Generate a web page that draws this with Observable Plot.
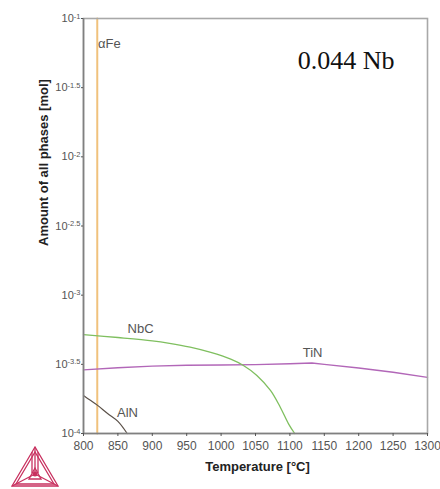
<!DOCTYPE html>
<html><head><meta charset="utf-8">
<script src="https://cdn.jsdelivr.net/npm/d3@7"></script>
<script src="https://cdn.jsdelivr.net/npm/@observablehq/plot@0.6"></script>
<style>
body{margin:0;background:#fff;}
#wrap{position:relative;width:440px;height:489px;font-family:"Liberation Sans",Arial,sans-serif;}
#logo{position:absolute;left:11px;top:446px;}
</style>
</head><body><div id="wrap"></div>
<script>
// Temperatures [°C] and log10(amount [mol])
const nbcT   = [800, 850, 900, 925, 955, 985, 1014, 1033, 1052, 1072, 1086, 1098, 1107];
const nbcLog = [-3.285, -3.306, -3.33, -3.348, -3.376, -3.414, -3.463, -3.51, -3.58, -3.69, -3.81, -3.93, -4.0];
const tinT   = [800, 850, 900, 950, 1000, 1050, 1100, 1132, 1150, 1200, 1250, 1300];
const tinLog = [-3.54, -3.525, -3.513, -3.507, -3.505, -3.502, -3.496, -3.49, -3.50, -3.527, -3.557, -3.594];
const alnT   = [800, 810, 820, 835, 850, 863.5];
const alnLog = [-3.726, -3.76, -3.795, -3.855, -3.912, -4.0];
const feT    = [820, 820];
const feLog  = [-4.0, -1.0];

const phaseNames = ["αFe", "NbC", "TiN", "AlN"];
const phaseColors = ["#f0c27c", "#7fbf5f", "#b267b8", "#5a5048"];
const labelT   = [821, 883, 1133, 864];
const labelLog = [-1.18, -3.24, -3.42, -3.85];
const labelAnchor = ["start", "middle", "middle", "middle"];

const xTicks = [800, 850, 900, 950, 1000, 1050, 1100, 1150, 1200, 1250, 1300];
const yTickExp = [-1, -1.5, -2, -2.5, -3, -3.5, -4];

const toRows = (T, L) => T.map((t, i) => ({t, v: Math.pow(10, L[i])}));
const nbc = toRows(nbcT, nbcLog);
const tin = toRows(tinT, tinLog);
const aln = toRows(alnT, alnLog);
const fe = toRows(feT, feLog);
const labels = phaseNames.map((n, i) => ({n, t: labelT[i], v: Math.pow(10, labelLog[i]), a: labelAnchor[i]}));

const expOf = v => Math.round(Math.log10(v) * 10) / 10;

const chart = Plot.plot({
  width: 440, height: 489,
  marginLeft: 83, marginRight: 13, marginTop: 18, marginBottom: 56,
  style: {fontFamily: "'Liberation Sans', Arial, sans-serif", background: "#fff"},
  x: {domain: [800, 1300]},
  y: {type: "log", domain: [1e-4, 1e-1]},
  marks: [
    Plot.line(fe, {x: "t", y: "v", stroke: phaseColors[0], strokeWidth: 2}),
    Plot.line(aln, {x: "t", y: "v", stroke: phaseColors[3], strokeWidth: 1.2, curve: "catmull-rom"}),
    Plot.line(tin, {x: "t", y: "v", stroke: phaseColors[2], strokeWidth: 1.4, curve: "linear"}),
    Plot.line(nbc, {x: "t", y: "v", stroke: phaseColors[1], strokeWidth: 1.3, curve: "catmull-rom"}),
    Plot.text(labels.filter(d => d.a === "start"), {x: "t", y: "v", text: "n", textAnchor: "start", fontSize: 13, fill: "#555"}),
    Plot.text(labels.filter(d => d.a === "middle"), {x: "t", y: "v", text: "n", textAnchor: "middle", fontSize: 13, fill: "#555"}),
    Plot.frame({stroke: "#a8a8a8", strokeWidth: 1.6}),
    Plot.ruleX([800], {stroke: "#808080", strokeWidth: 1.6}),
    Plot.ruleY([1e-4], {stroke: "#808080", strokeWidth: 1.6}),
    Plot.axisX({ticks: xTicks, tickSize: 3, tickPadding: 5, fontSize: 12, color: "#555", label: null, tickFormat: d => String(d)}),
    Plot.axisY({ticks: yTickExp.map(e => Math.pow(10, e)), tickSize: 2, tickPadding: 1, fontSize: 11, color: "#555", label: null,
      tickFormat: v => "10^" + expOf(v)}),
    Plot.text(["Amount of all phases [mol]"], {frameAnchor: "left", dx: -40, dy: 20, rotate: -90, fontWeight: "bold", fontSize: 13, fill: "#222"}),
    Plot.text(["Temperature [°C]"], {frameAnchor: "bottom", dx: 2, dy: 37, fontWeight: "bold", fontSize: 13, fill: "#222"}),
    Plot.text(["0.044 Nb"], {frameAnchor: "top-right", dx: -33, dy: 32, textAnchor: "end", fontSize: 26, fontFamily: "'Liberation Serif', 'Times New Roman', serif", fill: "#111"})
  ]
});

// superscript formatting for log tick labels
d3.select(chart).selectAll("g[aria-label='y-axis tick label'] text").each(function() {
  const s = this.textContent;
  if (!s.startsWith("10^")) return;
  const e = s.slice(3);
  const t = d3.select(this);
  t.text(null);
  t.append("tspan").text("10");
  t.append("tspan").attr("dy", "-0.45em").attr("font-size", 7.5).text(e);
});

document.getElementById("wrap").appendChild(chart);

// Thermo-Calc style logo (decoration)
const logo = d3.select("#wrap").append("svg").attr("id", "logo").attr("width", 48).attr("height", 42);
const g = logo.append("g").attr("fill", "none").attr("stroke", "#c8305f").attr("stroke-width", 1.3);
g.append("polygon").attr("points", "24,1 1,40 47,40");
g.append("polygon").attr("points", "24,6 5,38 43,38");
g.append("line").attr("x1", 24).attr("y1", 1).attr("x2", 24).attr("y2", 28);
g.append("line").attr("x1", 1).attr("y1", 40).attr("x2", 24).attr("y2", 28);
g.append("line").attr("x1", 47).attr("y1", 40).attr("x2", 24).attr("y2", 28);
g.append("line").attr("x1", 21).attr("y1", 6).attr("x2", 21).attr("y2", 27);
g.append("line").attr("x1", 27).attr("y1", 6).attr("x2", 27).attr("y2", 27);
g.append("polygon").attr("points", "24,22 18,33 30,33");
logo.append("circle").attr("cx", 24).attr("cy", 28).attr("r", 2.5).attr("fill", "#c8305f");
</script>
</body></html>
